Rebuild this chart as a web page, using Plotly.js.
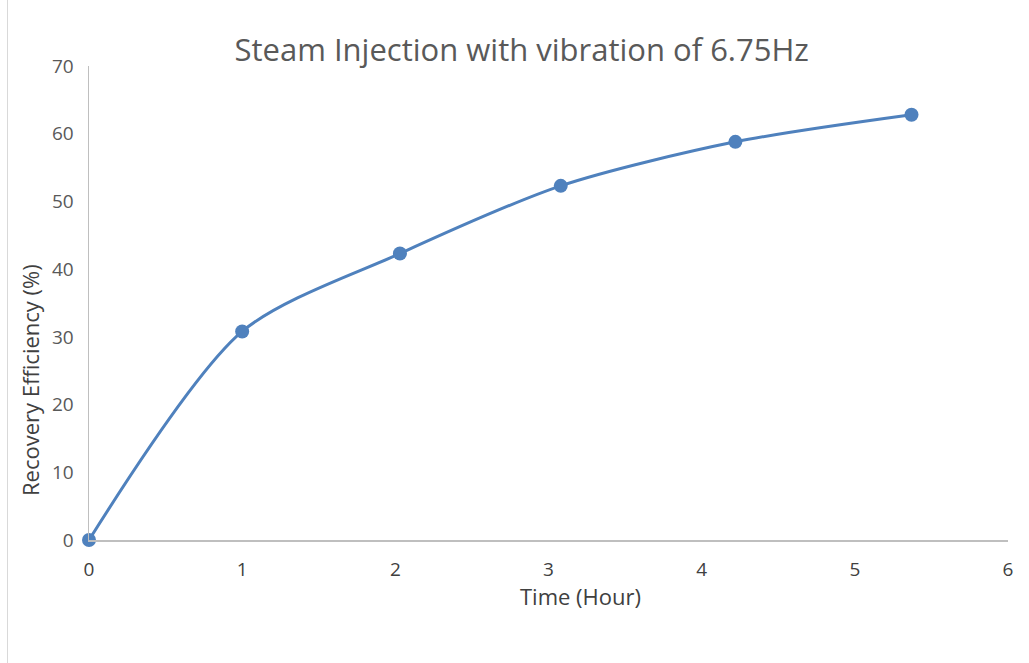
<!DOCTYPE html>
<html><head><meta charset="utf-8">
<script src="https://cdn.plot.ly/plotly-3.0.1.min.js"></script>
<style>html,body{margin:0;padding:0;background:#fff;}#chart{width:1029px;height:663px;position:relative;}#frame{position:absolute;left:7px;top:0;width:0;height:663px;border-left:1.5px solid #d9d9d9;}</style>
</head><body>
<div id="chart"></div><div id="frame"></div>
<script>
const timeHours = [0, 1.0, 2.03, 3.08, 4.22, 5.37];
const recovery = [0, 30.8, 42.3, 52.3, 58.8, 62.8];
const xTicks = [0, 1, 2, 3, 4, 5, 6];
const yTicks = [0, 10, 20, 30, 40, 50, 60, 70];
const titleText = 'Steam Injection with vibration of 6.75Hz';
const xTitle = 'Time (Hour)';
const yTitle = 'Recovery Efficiency (%)';

const font = 'Open Sans, Liberation Sans, sans-serif';
Plotly.newPlot('chart', [{
  x: timeHours, y: recovery, type: 'scatter', mode: 'lines+markers',
  line: {color: '#4f81bd', width: 3, shape: 'spline', smoothing: 0.8},
  marker: {color: '#4f81bd', size: 14},
  cliponaxis: false
}], {
  width: 1029, height: 663,
  margin: {l: 89, r: 21, t: 66, b: 123},
  paper_bgcolor: '#fff', plot_bgcolor: '#fff',
  showlegend: false,
  title: {text: titleText, font: {family: font, size: 31, color: '#595959'}, xref: 'container', x: 0.507, xanchor: 'center', yref: 'container', y: 0.925, yanchor: 'middle'},
  xaxis: {range: [0, 6], tickvals: xTicks, showgrid: false, zeroline: false, showline: true, linecolor: '#bfbfbf', linewidth: 1.5, ticks: '', tickfont: {family: font, size: 19, color: '#404040'}, ticklabelstandoff: 12},
  yaxis: {range: [0, 70], tickvals: yTicks, showgrid: false, zeroline: false, showline: true, linecolor: '#bfbfbf', linewidth: 1.5, ticks: '', tickfont: {family: font, size: 19, color: '#595959'}, ticklabelstandoff: 10},
  annotations: [
    {text: xTitle, xref: 'paper', yref: 'paper', x: 0.535, y: -0.118, xanchor: 'center', yanchor: 'middle', showarrow: false, font: {family: font, size: 22, color: '#404040'}},
    {text: yTitle, xref: 'paper', yref: 'paper', x: -0.064, y: 0.338, xanchor: 'center', yanchor: 'middle', textangle: -90, showarrow: false, font: {family: font, size: 22, color: '#404040'}}
  ]
}, {displayModeBar: false, staticPlot: true});
</script>
</body></html>
